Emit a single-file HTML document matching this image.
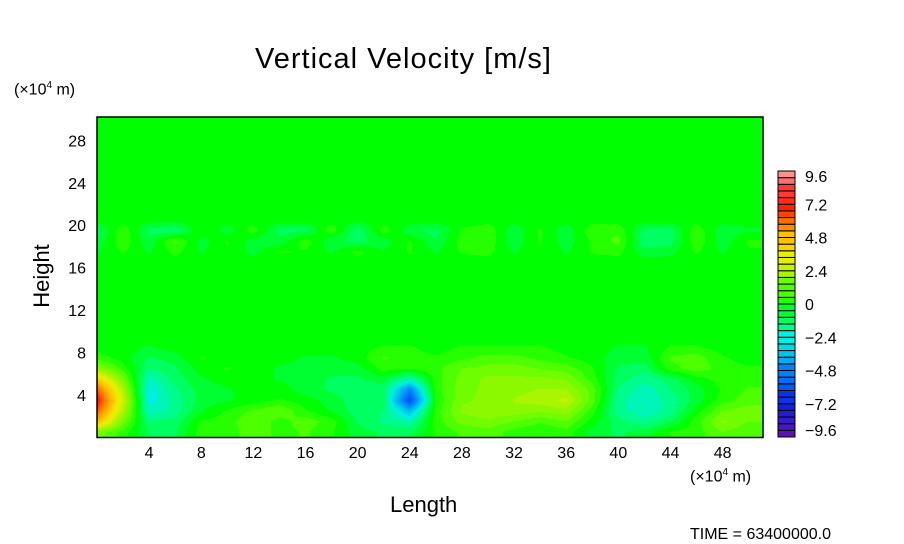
<!DOCTYPE html>
<html><head><meta charset="utf-8"><style>
body{margin:0;background:#fff;width:904px;height:544px;overflow:hidden;position:relative;font-family:"Liberation Sans",sans-serif;}
.t{position:absolute;color:#000;white-space:nowrap;}
</style></head><body>
<div class="t" style="left:255px;top:43px;font-size:29px;letter-spacing:1px;">Vertical Velocity [m/s]</div>
<div class="t" style="left:14px;top:80px;font-size:16px;">(×10<sup style="font-size:10px">4</sup> m)</div>
<div class="t" style="left:690px;top:467px;font-size:16px;">(×10<sup style="font-size:10px">4</sup> m)</div>
<div class="t" style="left:10px;top:263px;font-size:22px;transform:rotate(-90deg);transform-origin:center;width:64px;text-align:center;">Height</div>
<div class="t" style="left:390px;top:492px;font-size:22px;">Length</div>
<div class="t" style="left:690px;top:526px;font-size:16px;">TIME = 63400000.0</div>
<canvas id="field" width="666" height="320" style="position:absolute;left:97px;top:117px;"></canvas>
<svg id="svg" width="904" height="544" style="position:absolute;left:0;top:0;"></svg>
<script>
const xTicks=[4,8,12,16,20,24,28,32,36,40,44,48];
const yTicks=[4,8,12,16,20,24,28];
const cbTicks=[9.6,7.2,4.8,2.4,0,-2.4,-4.8,-7.2,-9.6];
const colX=[0,2,4,6,8,10,12,14,16,18,20,22,24,26,28,30,32,34,36,38,40,42,44,46,48,50];
const row0=[1.5,0.5,-0.8,-0.8,0.5,0.3,1.2,0.5,0.8,0.3,-0.5,-0.8,-0.8,0.3,0.8,1.0,0.5,0.3,0.5,-0.5,-0.8,-0.5,0.3,0.5,1.2,0.8];
const row1=[5,1.5,-1.2,-1,0.3,0.5,1.2,0.5,1,0.5,-0.8,-1.3,-1.8,0.5,1.4,1.6,1.2,0.8,1.2,0,-1,-1.5,-0.8,0.5,1.8,1.2];
const row2=[6.5,2.5,-2,-1.5,-0.3,0.3,0.8,1.2,0.3,-0.3,-1,-1.2,-3.5,0.5,1.8,2,2,1.8,2,0.5,-1.5,-2,-1.5,0,1.2,1.5];
const row3=[7.5,3,-2.5,-1.5,-0.5,-0.3,0,0.3,0,-0.5,-1,-1,-6.2,0.3,1.6,1.8,2.2,2.4,2.8,1,-1.5,-2.2,-1.5,-0.5,0.5,1];
const row4=[6.5,2.5,-2.5,-1.3,-0.5,-0.3,0,0,-0.5,-0.8,-1,-1,-4.8,0.5,1.5,1.8,2,2.2,2.2,1,-1.2,-2,-1.2,-0.5,0.3,0.8];
const row5=[4.5,1.5,-2,-1,-0.3,0,0,-0.3,-0.5,-0.8,-0.8,-0.5,-1.8,0.5,1.4,1.8,1.8,1.8,1.6,0.5,-1,-1.5,-1,0,0.5,0.5];
const row6=[2,0.5,-1.2,-0.8,0,0.3,0,-0.3,-0.5,-0.5,-0.5,0.5,0.3,0.6,1.2,1.4,1.4,1.2,1,0.3,-0.8,-1,0.5,1,0.5,0.3];
const row7=[0.5,0,-0.8,-0.5,0.3,0,0,0,-0.3,-0.3,0,0.8,0.5,0.3,0.6,0.9,0.9,0.6,0.3,0,-0.5,-0.5,0.8,1,0.3,0];
const row8=[0,0,-0.3,0,0,0,0,0,0,0,0,0.3,0.3,0,0.3,0.3,0.3,0.3,0,0,-0.3,-0.3,0.3,0.3,0,0];
const row17=[-0.3,0.3,-0.3,0.4,-0.3,0.2,-0.4,0.3,0.2,-0.3,0.4,-0.2,0.3,-0.3,0.3,0.4,-0.3,0.2,-0.3,0.3,0.4,-0.5,-0.4,0.3,-0.3,0.2];
const row18=[-0.6,0.6,-0.6,0.9,-0.5,0.3,-0.5,-0.6,0.5,-0.6,-0.9,-0.5,0.3,-0.7,0.5,0.6,-0.6,0.3,-0.5,0.3,0.9,-1.2,-0.9,0.6,-0.5,0.3];
const row19=[-0.9,0.6,-0.9,-1.2,0.3,-0.5,0.5,-0.9,-0.9,0.6,-1.2,0.5,-0.6,-0.9,0.3,0.6,-0.6,0.3,-0.6,0.6,0.6,-0.9,-0.9,0.6,-0.6,-0.3];

const X0=97,X1=763,Y0=437.5,Y1=117;
const xs=v=>X0+v*(X1-X0)/51.1;
const ys=v=>Y0-v*(Y0-Y1)/30.2;
const zeros=colX.map(()=>0);
const grid=[];
for(let r=0;r<31;r++)grid.push(zeros);
[row0,row1,row2,row3,row4,row5,row6,row7,row8].forEach((a,i)=>grid[i]=a);
grid[17]=row17;grid[18]=row18;grid[19]=row19;

const stops=[[-9.6,[112,16,176]],[-7.2,[16,32,224]],[-4.8,[0,128,255]],[-2.4,[0,240,224]],[-1.2,[0,255,120]],[0,[0,255,0]],[1.2,[96,255,0]],[2.4,[170,245,0]],[3.6,[240,240,0]],[4.8,[255,192,0]],[6,[255,128,0]],[7.2,[255,32,0]],[8.4,[255,64,64]],[9.6,[255,144,144]]];
function cmap(v){
  let q=Math.round(v/0.48)*0.48;
  q=Math.max(-9.6,Math.min(9.6,q));
  for(let i=0;i<stops.length-1;i++){
    const [a,ca]=stops[i],[b,cb]=stops[i+1];
    if(q<=b){const t=(q-a)/(b-a);return ca.map((c,k)=>Math.round(c+(cb[k]-c)*t));}
  }
  return stops[stops.length-1][1];
}
function sample(x,y){
  const step=colX[1]-colX[0];
  let cx=(x-colX[0])/step, cy=y-0.5;
  cx=Math.max(0,Math.min(colX.length-1,cx)); cy=Math.max(0,Math.min(30,cy));
  const i=Math.min(Math.floor(cx),colX.length-2), j=Math.min(Math.floor(cy),29);
  const fx=cx-i, fy=cy-j;
  const a=grid[j][i],b=grid[j][i+1],c=grid[j+1][i],d=grid[j+1][i+1];
  return (a*(1-fx)+b*fx)*(1-fy)+(c*(1-fx)+d*fx)*fy;
}
const cv=document.getElementById('field'),ctx=cv.getContext('2d');
const img=ctx.createImageData(666,320);
for(let py=0;py<320;py++){for(let px=0;px<666;px++){
  const x=(px+0.5)*51.1/(X1-X0), y=(Y0-(py+Y1+0.5))*30.2/(Y0-Y1);
  const c=cmap(sample(x,y)); const o=(py*666+px)*4;
  img.data[o]=c[0];img.data[o+1]=c[1];img.data[o+2]=c[2];img.data[o+3]=255;}}
ctx.putImageData(img,0,0);

const svg=document.getElementById('svg');const NS='http://www.w3.org/2000/svg';
function el(t,a,p){const e=document.createElementNS(NS,t);for(const k in a)e.setAttribute(k,a[k]);(p||svg).appendChild(e);return e;}
const frame=el('rect',{x:X0,y:Y1,width:X1-X0,height:Y0-Y1,fill:'none',stroke:'#000','stroke-width':1.5});


xTicks.forEach(v=>{const t=el('text',{x:xs(v),y:458,'font-size':16,'text-anchor':'middle','font-family':'Liberation Sans'});t.textContent=v;

});
yTicks.forEach(v=>{const t=el('text',{x:86,y:ys(v)+6,'font-size':16,'text-anchor':'end','font-family':'Liberation Sans'});t.textContent=v;

});
const CB0=437,CB1=171,CBX=778,CBW=17;
const cby=v=>CB0-(v+9.6)*(CB0-CB1)/19.2;
for(let k=0;k<40;k++){const lo=-9.6+k*0.48,hi=lo+0.48;const c=cmap((lo+hi)/2);
  const r=el('rect',{x:CBX,y:cby(hi),width:CBW,height:cby(lo)-cby(hi),fill:`rgb(${c})`,stroke:'#000','stroke-width':1});
  
  }
cbTicks.forEach(v=>{const t=el('text',{x:805,y:cby(v)+(v===9.6?11:v===-9.6?-1:6),'font-size':16,'font-family':'Liberation Sans'});t.textContent=(v<0?'\u2212'+(-v):v);

});
</script>
</body></html>
